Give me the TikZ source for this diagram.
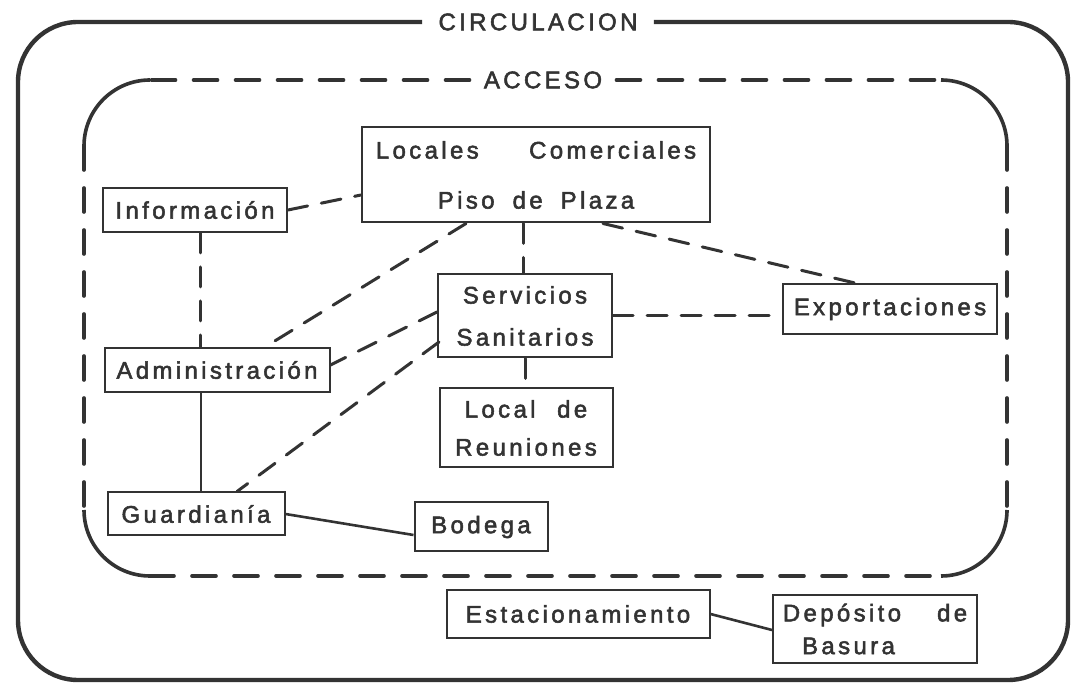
\documentclass[tikz,border=0pt]{standalone}
\usepackage{fontspec}
\setmainfont{Liberation Sans}[LetterSpace=14, WordSpace=1.8, FakeBold=2.2]
\usetikzlibrary{calc,positioning}
\definecolor{ink}{gray}{0.2}
\tikzset{room/.style={draw=ink, line width=1pt, inner sep=0pt, align=center, text=ink},
  link/.style={draw=ink, line width=1.5pt, line cap=round, dash pattern=on 10pt off 7pt},
  tie/.style={draw=ink, line width=1.3pt},
  lane/.style={draw=ink, line width=1.8pt, line cap=round, dash pattern=on 12pt off 9pt},
  lanecorner/.style={draw=ink, line width=1.8pt, rounded corners=33pt},
  tag/.style={text=ink, inner ysep=0pt}}

\begin{document}
\begin{tikzpicture}[x=0.5pt, y=-0.5pt, font=\fontsize{12}{14.4}\selectfont]
  \useasboundingbox[fill=white] (0,0) rectangle (1075,688);
  % outer ring and inner access zone
  \node[tag, inner xsep=8pt] (circ) at (538,22) {CIRCULACION};
  \draw[draw=ink, line width=2.2pt, rounded corners=30pt]
    (circ.west) -- (18,22) -- (18,680) -- (1068,680) -- (1068,22) -- (circ.east);
  \node[tag, inner xsep=7pt] (acc) at (543,80) {ACCESO};
  \draw[lane] (acc.west) -- (150,80);
  \draw[lane] (acc.east) -- (941,80);
  \draw[lane] (84,146) -- (84,510);
  \draw[lane] (150,576) -- (941,576);
  \draw[lane] (1007,146) -- (1007,510);
  \draw[lanecorner] (150,80) -- (84,80) -- (84,146);
  \draw[lanecorner] (84,510) -- (84,576) -- (150,576);
  \draw[lanecorner] (941,576) -- (1007,576) -- (1007,510);
  \draw[lanecorner] (1007,146) -- (1007,80) -- (941,80);
  % rooms
  \node[room, minimum width=174pt, minimum height=47.5pt] (loc) at (536,175)
    {Locales\hspace{2.1em}Comerciales\\[10.6pt]Piso de Plaza};
  \node[room, minimum width=92pt, minimum height=22pt] (info) at (195,210) {Información};
  \node[room, minimum width=87pt, minimum height=41.5pt] (serv) at (525,316)
    {Servicios\\[6.6pt]Sanitarios};
  \node[room, minimum width=107pt, minimum height=25pt] (expo) at (890,309) {Exportaciones};
  \node[room, minimum width=112.5pt, minimum height=22pt] (admin) at (217,370) {Administración};
  \node[room, minimum width=86.5pt, minimum height=39.5pt] (reun) at (526,428)
    {Local\hspace{0.9em}de\\[4.6pt]Reuniones};
  \node[room, minimum width=88.5pt, minimum height=21.5pt] (guard) at (196,514) {Guardianía};
  \node[room, minimum width=66.5pt, minimum height=24.5pt] (bod) at (481,527) {Bodega};
  \node[room, minimum width=131.5pt, minimum height=24pt] (est) at (578,614) {Estacionamiento};
  \node[room, minimum width=102pt, minimum height=34pt, align=left] (dep) at (875,629)
    {Depósito\hspace{1.5em}de\\[2pt]\hspace*{0.8em}Basura};
  % dashed relations
  \draw[link] (info.east) -- ($(loc.west)+(0,20)$);
  \draw[link] ($(info.south)+(5,0)$) coordinate (ia) -- (ia |- admin.north);
  \draw[link] ($(loc.south)+(-70,0)$) -- ($(admin.north)+(48,0)$);
  \draw[link] ($(loc.south)+(-13,0)$) coordinate (ls) -- (ls |- serv.north);
  \draw[link] ($(loc.south)+(67,0)$) -- ($(expo.north)+(-35,0)$);
  \draw[link] ($(serv.west)+(0,-4)$) -- ($(admin.east)+(0,-5)$);
  \draw[link] ($(serv.west)+(2,26)$) -- ($(guard.north)+(41,0)$);
  \draw[link] (serv.east) -- (serv.east -| expo.west);
  \draw[link] (serv.south) -- (serv.south |- reun.north);
  % solid relations
  \draw[tie] ($(admin.south)+(-16,0)$) coordinate (ag) -- (ag |- guard.north);
  \draw[tie] (guard.east) -- ($(bod.west)+(0,8)$);
  \draw[tie] (est.east) -- ($(dep.west)+(0,1)$);
\end{tikzpicture}
\end{document}
